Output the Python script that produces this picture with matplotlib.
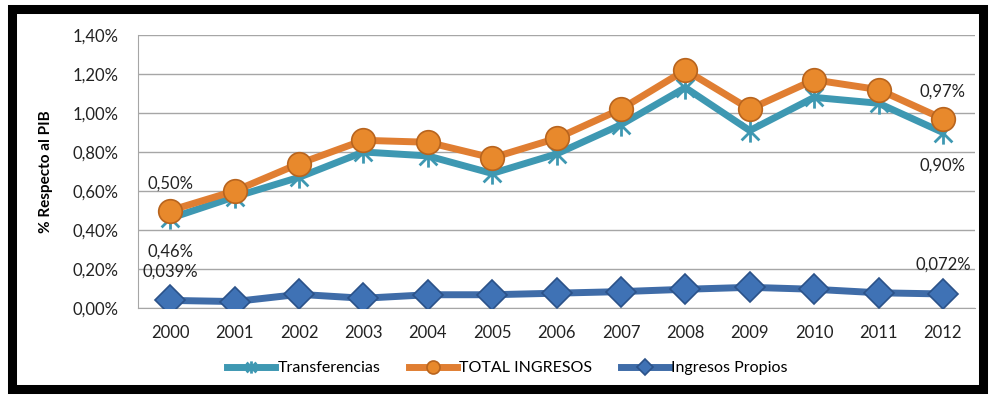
import matplotlib
matplotlib.use("Agg")
import matplotlib.pyplot as plt
from matplotlib.path import Path
from matplotlib.patches import Rectangle
from matplotlib.ticker import FuncFormatter

plt.rcParams['font.family'] = ['Lato', 'DejaVu Sans']

years = ["2000", "2001", "2002", "2003", "2004", "2005", "2006",
         "2007", "2008", "2009", "2010", "2011", "2012"]
transferencias = [0.46, 0.57, 0.67, 0.80, 0.78, 0.69, 0.79, 0.94, 1.13, 0.91, 1.08, 1.05, 0.90]
total_ingresos = [0.50, 0.60, 0.74, 0.86, 0.85, 0.77, 0.87, 1.02, 1.22, 1.02, 1.17, 1.12, 0.97]
ingresos_propios = [0.039, 0.033, 0.070, 0.050, 0.068, 0.068, 0.076, 0.084, 0.096, 0.106, 0.096, 0.078, 0.072]
yticks = [0.0, 0.2, 0.4, 0.6, 0.8, 1.0, 1.2, 1.4]

c_trans = "#3E98B2"
c_total = "#E07E32"
c_prop = "#3F6CA8"

fig = plt.figure(figsize=(9.95, 4.0), dpi=100)
ax = fig.add_axes([0.1387, 0.23, 0.98 - 0.1387, 0.9125 - 0.23])

x = list(range(len(years)))

star = Path([(0, -1), (0, 1), (-0.8, -0.8), (0.8, 0.8), (-0.8, 0.8), (0.8, -0.8)],
            [Path.MOVETO, Path.LINETO, Path.MOVETO, Path.LINETO, Path.MOVETO, Path.LINETO])

ax.plot(x, transferencias, color=c_trans, lw=5, marker=star, ms=16,
        mec=c_trans, mew=2, label="Transferencias", zorder=3)
ax.plot(x, total_ingresos, color=c_total, lw=5, marker='o', ms=17,
        mfc="#E8892C", mec="#B8641E", mew=1.2, label="TOTAL INGRESOS", zorder=4)
ax.plot(x, ingresos_propios, color=c_prop, lw=5, marker='D', ms=15,
        mfc="#3F72B5", mec="#2B5289", mew=1.2, label="Ingresos Propios", zorder=4)

ax.set_xlim(-0.5, len(years) - 0.5)
ax.set_ylim(0, 1.4)
ax.set_yticks(yticks)
ax.yaxis.set_major_formatter(FuncFormatter(lambda v, p: f"{v:.2f}%".replace(".", ",")))
ax.set_xticks(x)
ax.set_xticklabels(years)
ax.tick_params(axis='both', labelsize=12, colors="#222222", length=0)
ax.tick_params(axis='x', pad=12)
ax.tick_params(axis='y', pad=14)
ax.grid(axis='y', color="#A6A6A6", lw=1)
ax.set_axisbelow(True)
for s in ['top', 'right']:
    ax.spines[s].set_visible(False)
ax.spines['left'].set_color("#A6A6A6")
ax.spines['bottom'].set_color("#A6A6A6")

ax.set_ylabel("% Respecto al PIB", fontsize=11, fontweight='bold', labelpad=14)

def fmt(v, d=2):
    return (f"{v:.{d}f}%").replace(".", ",")

lab_kw = dict(fontsize=12, color="#222222", ha='center', va='center')
ax.text(0, total_ingresos[0] + 0.14, fmt(total_ingresos[0]), **lab_kw)
ax.text(0, transferencias[0] - 0.17, fmt(transferencias[0]), **lab_kw)
ax.text(0, ingresos_propios[0] + 0.15, fmt(ingresos_propios[0], 3), **lab_kw)
ax.text(12, total_ingresos[-1] + 0.14, fmt(total_ingresos[-1]), **lab_kw)
ax.text(12, transferencias[-1] - 0.17, fmt(transferencias[-1]), **lab_kw)
ax.text(12, ingresos_propios[-1] + 0.15, fmt(ingresos_propios[-1], 3), **lab_kw)

leg = fig.legend(loc='center', bbox_to_anchor=(0.51, 0.08), ncol=3, frameon=False,
                 fontsize=11.5, handlelength=3.0, columnspacing=1.8, handletextpad=0.15,
                 markerscale=0.55)

fig.patches.append(Rectangle((0.012, 0.028), 0.976, 0.95, transform=fig.transFigure,
                             fill=False, edgecolor='black', lw=6.5, zorder=10))

fig.savefig("out.png", dpi=100)
